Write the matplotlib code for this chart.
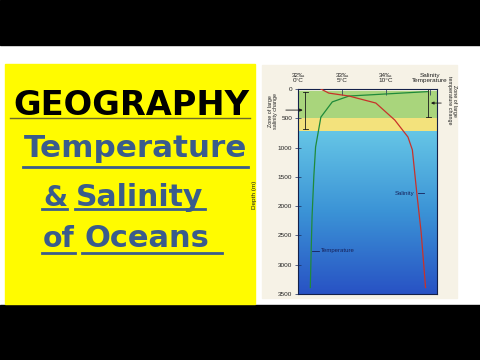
import matplotlib
matplotlib.use("Agg")
import numpy as np
import matplotlib.pyplot as plt
from matplotlib.colors import LinearSegmentedColormap
from matplotlib.patches import Rectangle

# values
temp_depth = [45, 120, 220, 480, 990, 1490, 2170, 2740, 3390]
temp_c = [14.7, 5.8, 3.9, 2.6, 2.0, 1.8, 1.6, 1.5, 1.4]
sal_depth = [0, 70, 120, 240, 530, 820, 1040, 1770, 2450, 3390]
sal_ppt = [32.52, 32.7, 33.16, 33.77, 34.2, 34.5, 34.6, 34.7, 34.8, 34.9]
depth_ticks = [0, 500, 1000, 1500, 2000, 2500, 3000, 3500]
top_temp = [0, 5, 10, 15]
top_sal_labels = ["32‰", "33‰", "34‰", "Salinity"]
top_temp_labels = ["0°C", "5°C", "10°C", "Temperature"]
sal_zone = (50, 690)
temp_zone = (0, 475)
bands = [(40, 500, "#a9d57c"), (500, 715, "#f3e27c")]


def sal_to_x(s):
    # salinity axis shares the temperature axis: 32‰ at 0°C, 1‰ per 5°C
    return (np.asarray(s) - 32) * 5


fig = plt.figure(figsize=(4.8, 3.6), dpi=100)
fig.patch.set_facecolor("white")

# background layer in pixel units
bg = fig.add_axes([0, 0, 1, 1], zorder=0)
bg.set_xlim(0, 480)
bg.set_ylim(360, 0)
bg.axis("off")
bg.add_patch(Rectangle((0, 0), 480, 45, color="black"))
bg.add_patch(Rectangle((0, 305), 480, 55, color="black"))
bg.add_patch(Rectangle((5, 64), 250, 240, color="#fffb00"))
bg.add_patch(Rectangle((262, 65), 195, 233, color="#f6f2e6"))

renderer = fig.canvas.get_renderer()
blue = "#3a5c8c"


def fit(s, x, y, w, **kw):
    t = bg.text(x, y, s, va="baseline", ha="left", family="DejaVu Sans",
                fontweight="bold", fontsize=20, **kw)
    bb = t.get_window_extent(renderer)
    t.set_fontsize(20 * w / bb.width)
    return t


fit("GEOGRAPHY", 13, 115, 235, color="black")
bg.plot([10, 250], [117.5, 117.5], color="#6d6a2a", lw=1)

fit("Temperature", 24, 157, 223, color=blue)
bg.plot([23, 248], [167, 167], color=blue, lw=2)
fit("&", 43, 206, 24, color=blue)
bg.plot([42, 67], [209, 209], color=blue, lw=2)
fit("Salinity", 76, 206, 128, color=blue)
bg.plot([75, 205], [209, 209], color=blue, lw=2)
fit("of", 43, 247, 32, color=blue)
bg.plot([42, 75], [253, 253], color=blue, lw=2)
fit("Oceans", 85, 247, 125, color=blue)
bg.plot([82, 222], [253, 253], color=blue, lw=2)

# the depth chart
ax = fig.add_axes([298 / 480, 1 - 294 / 360, 139 / 480, 205 / 360], zorder=1)
ax.set_facecolor("#eef3dc")

for top, bot, col in bands:
    ax.axhspan(top, bot, color=col, lw=0)
cmap = LinearSegmentedColormap.from_list("sea", ["#66c6e6", "#3b93d6", "#2852c4"])
grad = np.linspace(0, 1, 256).reshape(-1, 1)
ax.imshow(grad, cmap=cmap, aspect="auto", extent=[0, 15.8, 3500, 715], zorder=0)
ax.set_xlim(0, 15.8)
ax.set_ylim(3500, 0)

ax.plot(temp_c, temp_depth, color="#1f8a3a", lw=0.9, zorder=3)
ax.plot(sal_to_x(sal_ppt), sal_depth, color="#c8322a", lw=0.9, zorder=3)

ax.set_yticks(depth_ticks)
ax.set_yticklabels([str(d) for d in depth_ticks], family="Liberation Sans", fontsize=4.6, color="#222")
ax.tick_params(axis="y", direction="inout", length=4, width=0.5, colors="#1a2a5a", labelcolor="#222", pad=2)
ax.xaxis.tick_top()
ax.set_xticks(top_temp)
ax.set_xticklabels([])
ax.tick_params(axis="x", direction="in", length=4, width=0.5, colors="#1a2a5a")
for sp in ax.spines.values():
    sp.set_color("#14204a")
    sp.set_linewidth(0.8)

for x, s1, s2 in zip(top_temp, top_sal_labels, top_temp_labels):
    ax.text(x, -100, s1 + "\n" + s2, ha="center", va="bottom", fontsize=4.6, linespacing=1.0,
            family="Liberation Sans", color="#222")

ax.text(-5.0, 1800, "Depth (m)", rotation=90, ha="center", va="center", fontsize=4.6,
        family="Liberation Sans", color="#222", clip_on=False)

# zone brackets
zl = dict(color="#1a1a1a", lw=0.6, clip_on=False)
ax.plot([0.85, 0.85], sal_zone, **zl)
for d in sal_zone:
    ax.plot([0.55, 1.15], [d, d], **zl)
ax.annotate("", xy=(0.85, 360), xytext=(-1.7, 360), annotation_clip=False,
            arrowprops=dict(arrowstyle="-|>", color="#1a1a1a", lw=0.6, mutation_scale=4))
ax.text(-2.8, 370, "Zone of large\nsalinity change", rotation=90, ha="center", va="center",
        fontsize=3.9, family="Liberation Sans", color="#222", linespacing=1.0)

ax.plot([14.8, 14.8], temp_zone, **zl)
for d in temp_zone:
    ax.plot([14.5, 15.1], [d, d], **zl)
ax.annotate("", xy=(14.8, 240), xytext=(16.6, 240), annotation_clip=False,
            arrowprops=dict(arrowstyle="-|>", color="#1a1a1a", lw=0.6, mutation_scale=4))
ax.text(17.5, 200, "Zone of large\ntemperature change", rotation=270, ha="center", va="center",
        fontsize=3.9, family="Liberation Sans", color="#222", linespacing=1.0)

# curve labels
ax.text(11.0, 1780, "Salinity", ha="left", va="center", fontsize=4.3,
        family="Liberation Sans", color="#16205a")
ax.plot([13.6, 14.3], [1780, 1780], color="#16205a", lw=0.6)
ax.text(2.6, 2760, "Temperature", ha="left", va="center", fontsize=4.3,
        family="Liberation Sans", color="#16205a")
ax.plot([1.6, 2.4], [2760, 2760], color="#16205a", lw=0.6)

fig.savefig("out.png", dpi=100, facecolor="white")
